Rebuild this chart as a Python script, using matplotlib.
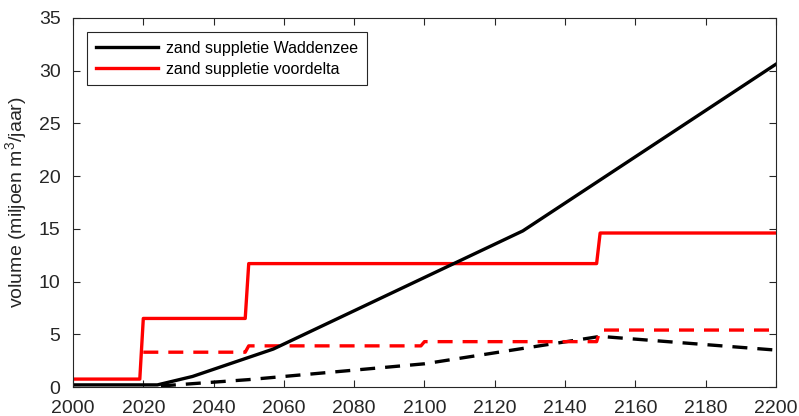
import matplotlib
matplotlib.use("Agg")
import matplotlib.pyplot as plt

plt.rcParams['font.family'] = ['Liberation Sans', 'DejaVu Sans']
plt.rcParams['mathtext.fontset'] = 'custom'
plt.rcParams['mathtext.rm'] = 'Liberation Sans'

# Data (jaar, volume in miljoen m3/jaar)
wad_jaar = [2000, 2024, 2034, 2057, 2128, 2200]
wad_vol = [0.2, 0.2, 1.0, 3.6, 14.8, 30.6]

wad2_jaar = [2025, 2050, 2100, 2150, 2200]
wad2_vol = [0.1, 0.7, 2.2, 4.8, 3.5]

delta_jaar = [2000, 2019, 2020, 2049, 2050, 2149, 2150, 2200]
delta_vol = [0.75, 0.75, 6.5, 6.5, 11.7, 11.7, 14.6, 14.6]

delta2_jaar = [2020, 2049, 2050, 2099, 2100, 2149, 2150, 2200]
delta2_vol = [3.3, 3.3, 3.9, 3.9, 4.3, 4.3, 5.4, 5.4]

fig = plt.figure(figsize=(7.99, 4.16), dpi=100)
ax = fig.add_axes([0.0914, 0.0697, 0.8796, 0.8874])

lw = 2.4
ax.plot(wad2_jaar, wad2_vol, color='black', lw=lw, dashes=(4.5, 3))
ax.plot(delta2_jaar, delta2_vol, color='red', lw=lw, dashes=(4.5, 3))
ax.plot(delta_jaar, delta_vol, color='red', lw=lw, label='zand suppletie voordelta')
ax.plot(wad_jaar, wad_vol, color='black', lw=lw, label='zand suppletie Waddenzee')

ax.set_xlim(2000, 2200)
ax.set_ylim(0, 35)
ax.set_xticks(range(2000, 2201, 20))
ax.set_yticks(range(0, 36, 5))
ax.tick_params(direction='in', top=True, right=True, length=5, width=0.8,
               labelsize=14, colors='#262626')
ax.tick_params(axis='x', pad=9)
ax.tick_params(axis='y', pad=9)
for s in ax.spines.values():
    s.set_color('#262626')
    s.set_linewidth(0.8)

ax.set_ylabel('volume (miljoen m$^3$/jaar)', fontsize=14, color='#262626', labelpad=6)

h, l = ax.get_legend_handles_labels()
leg = ax.legend(h[::-1], l[::-1], loc='upper left', fontsize=11.5, handlelength=3.9,
                fancybox=False, edgecolor='#262626', framealpha=1,
                borderaxespad=0.9, labelspacing=0.35, handletextpad=0.45,
                borderpad=0.55)
leg.get_frame().set_linewidth(0.8)

fig.savefig('out.png', dpi=100)
